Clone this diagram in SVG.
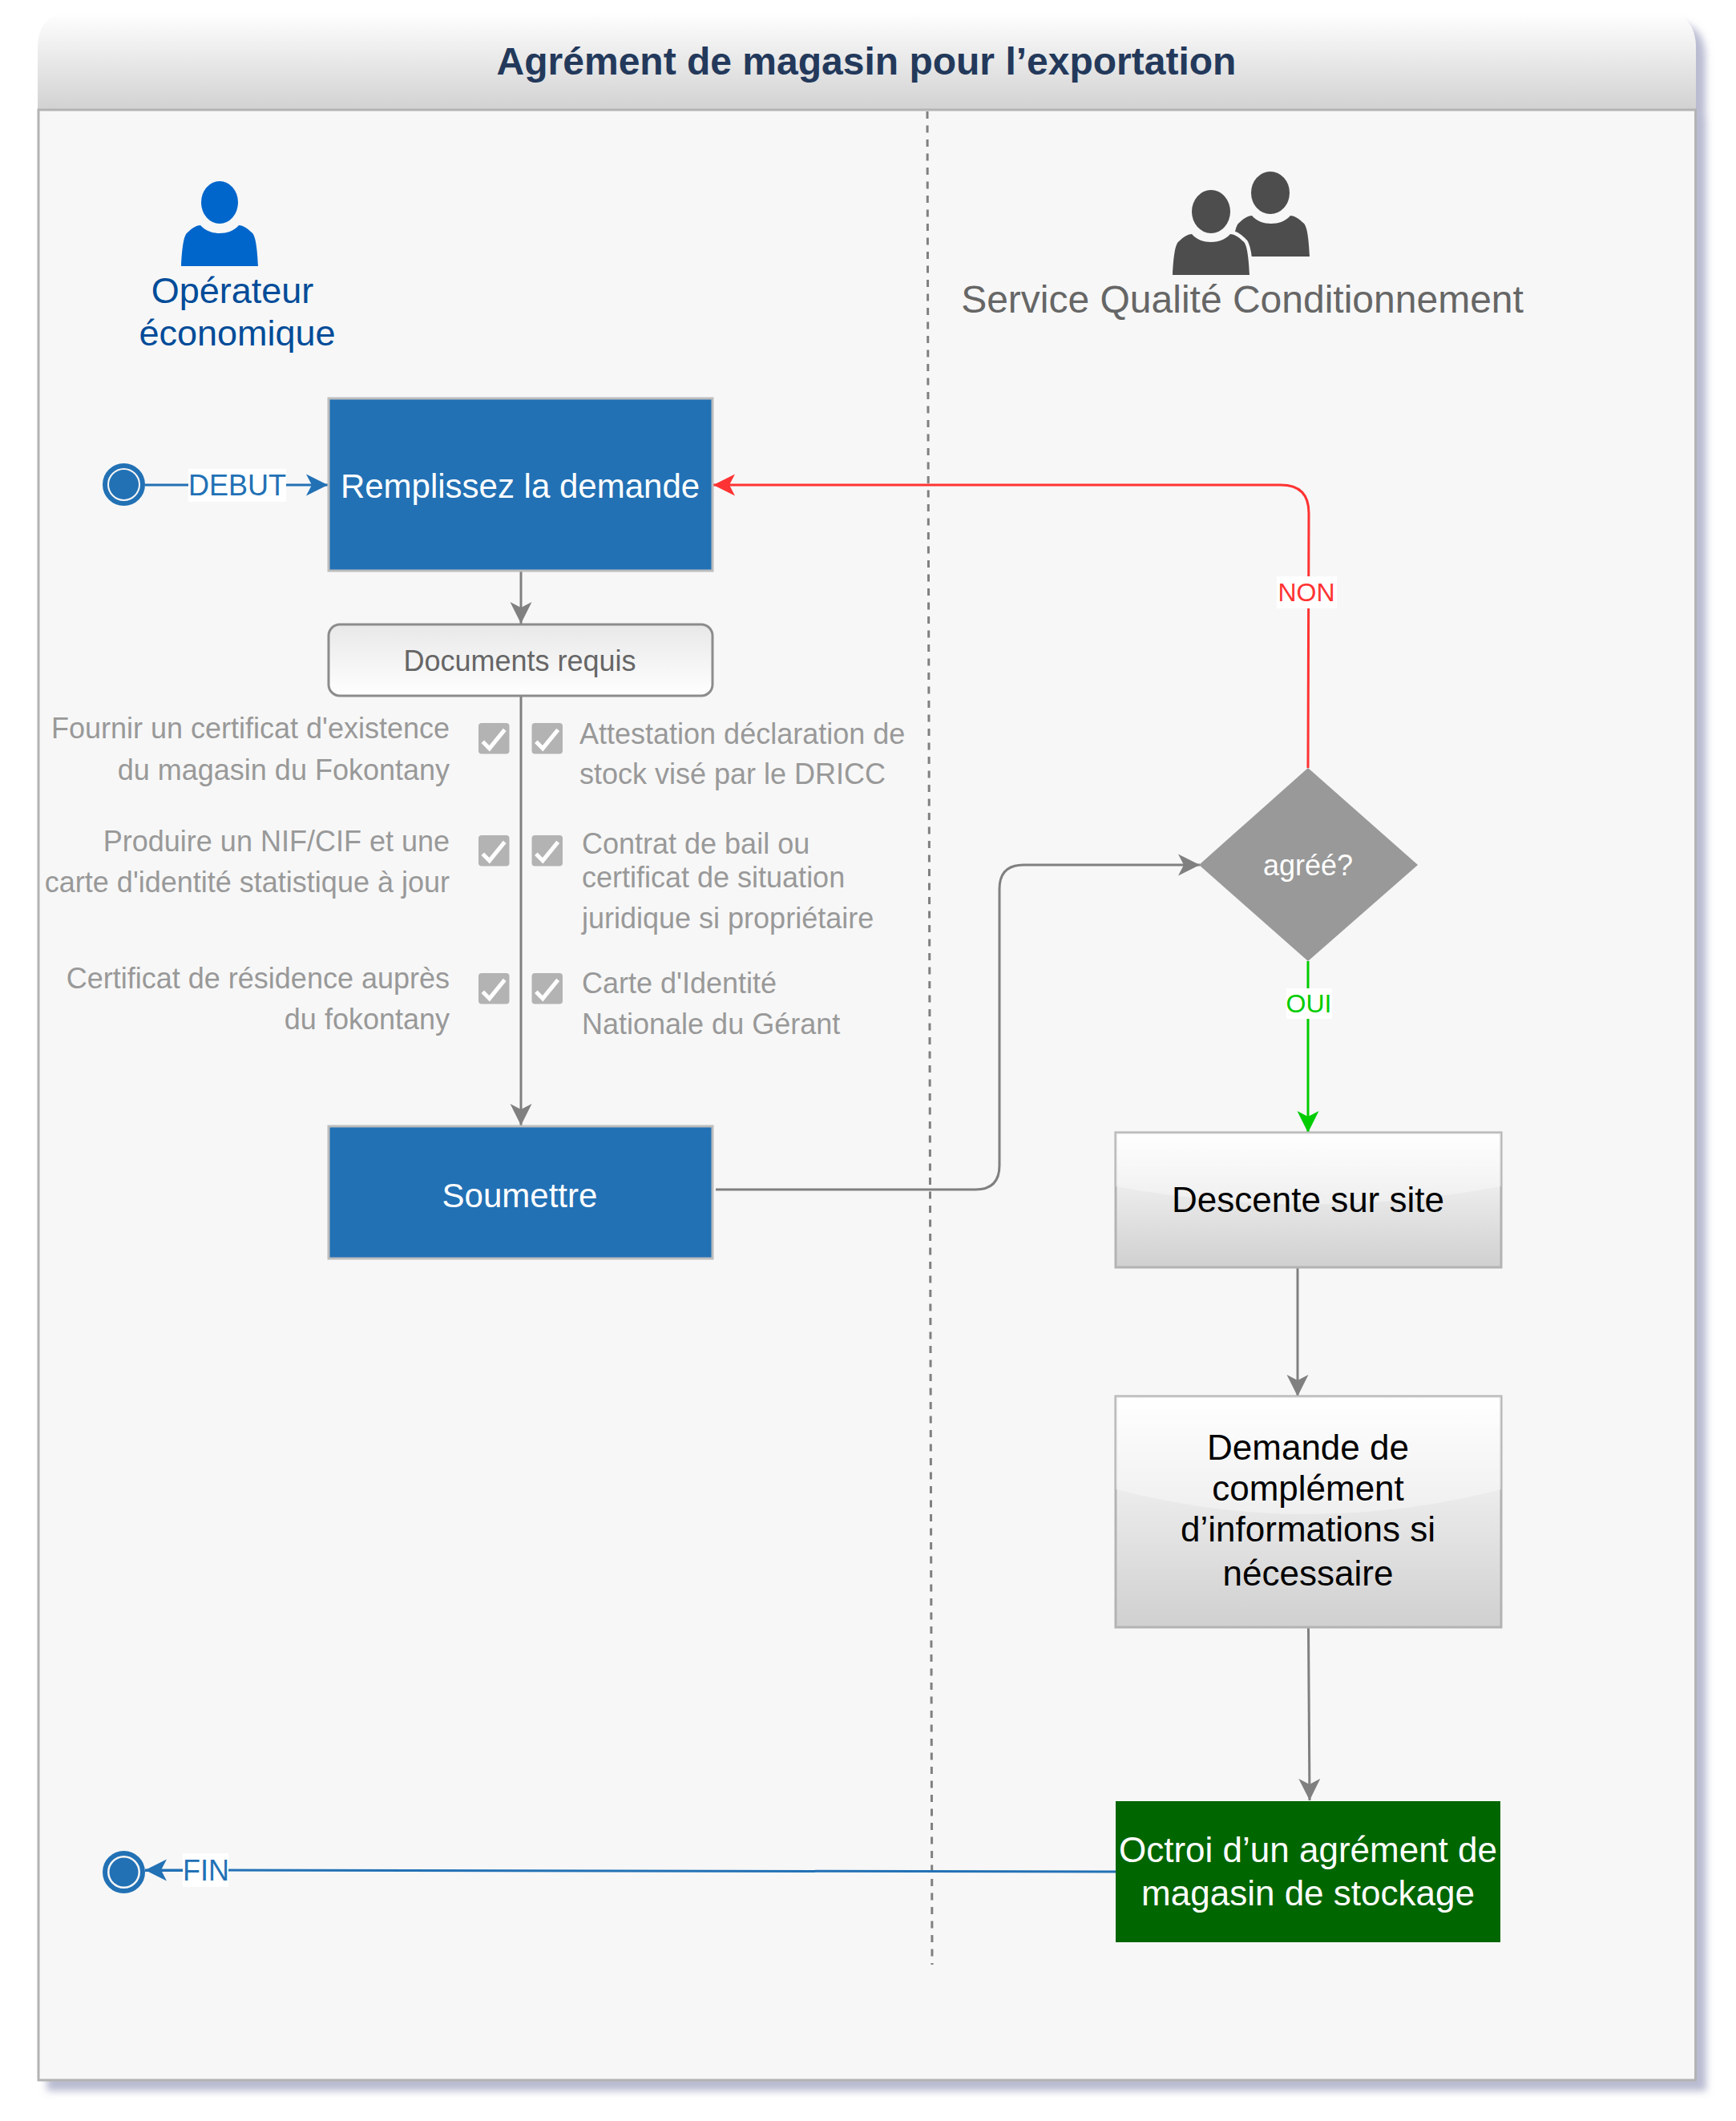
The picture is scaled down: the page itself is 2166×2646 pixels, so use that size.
<svg xmlns="http://www.w3.org/2000/svg" xmlns:xlink="http://www.w3.org/1999/xlink" width="2166" height="2646" viewBox="0 0 2166 2646">
<style>
text{font-family:"Liberation Sans",Arial,Helvetica,sans-serif}
.c{text-anchor:middle}
.r{text-anchor:end}
.req{font-size:36px;fill:#999999}
.w{fill:#ffffff}
.blue{fill:#2271B5;stroke:#BDBDBD;stroke-width:3}
.glass{fill:url(#gBox);stroke:#B3B3B3;stroke-width:3}
.sheen{fill:#ffffff;fill-opacity:.35}
.ln{fill:none;stroke-width:3}
.gray{stroke:#808080}
.lab{fill:#ffffff}
</style>
<defs>
<linearGradient id="gHead" x1="0" y1="0" x2="0" y2="1"><stop offset="0" stop-color="#ffffff"/><stop offset="1" stop-color="#D2D2D2"/></linearGradient>
<linearGradient id="gBox" x1="0" y1="0" x2="0" y2="1"><stop offset="0" stop-color="#ffffff"/><stop offset="1" stop-color="#D0D0D0"/></linearGradient>
<linearGradient id="gDoc" x1="0" y1="0" x2="0" y2="1"><stop offset="0" stop-color="#E8E8E8"/><stop offset="1" stop-color="#ffffff"/></linearGradient>
<filter id="shadow" x="-5%" y="-5%" width="110%" height="110%"><feDropShadow dx="12" dy="12" stdDeviation="5" flood-color="#8A8FB3" flood-opacity=".6"/></filter>
<marker id="aGray" markerUnits="userSpaceOnUse" markerWidth="28" markerHeight="28" viewBox="0 0 28 28" refX="27" refY="14" orient="auto"><path d="M0 .5L27 14L0 27.5L7 14Z" fill="#808080"/></marker>
<marker id="aBlue" markerUnits="userSpaceOnUse" markerWidth="28" markerHeight="28" viewBox="0 0 28 28" refX="27" refY="14" orient="auto"><path d="M0 .5L27 14L0 27.5L7 14Z" fill="#2271B5"/></marker>
<marker id="aRed" markerUnits="userSpaceOnUse" markerWidth="28" markerHeight="28" viewBox="0 0 28 28" refX="27" refY="14" orient="auto"><path d="M0 .5L27 14L0 27.5L7 14Z" fill="#FF3333"/></marker>
<marker id="aGreen" markerUnits="userSpaceOnUse" markerWidth="28" markerHeight="28" viewBox="0 0 28 28" refX="27" refY="14" orient="auto"><path d="M0 .5L27 14L0 27.5L7 14Z" fill="#00CC00"/></marker>
<path id="body" d="M-48 51C-47 30-45 12-40 9C-34 3-28 0-24 0C-18 7-9 10 0 10C9 10 18 7 24 0C28 0 34 3 40 9C45 12 47 30 48 51Z"/>
<g id="box"><rect width="38.500" height="38.500" rx="4" fill="#B3B3B3"/><polyline points="5.300,23.300 13.700,31.700 32.700,8.300" fill="none" stroke="#ffffff" stroke-width="5"/></g>
</defs>
<g id="pool">
<g filter="url(#shadow)">
<path d="M47 136V60Q47 15 92 15H2071Q2116 15 2116 60V136Z" fill="url(#gHead)"/>
<rect x="48" y="137" width="2067.500" height="2458" fill="#F7F7F7" stroke="#B3B3B3" stroke-width="3"/>
</g>
<text class="c" x="1081" y="93" font-size="48" font-weight="bold" fill="#23395B">Agrément de magasin pour l’exportation</text>
</g>
<line id="separator" x1="1157" y1="139" x2="1163" y2="2451" stroke="#808080" stroke-width="3" stroke-dasharray="9 8.500"/>
<g id="connectors">
<path class="ln" stroke="#2271B5" d="M181 605H409" marker-end="url(#aBlue)"/>
<rect class="lab" x="235" y="585" width="122" height="41"/>
<text class="c" x="296" y="618" font-size="36" fill="#2271B5">DEBUT</text>
<path class="ln gray" d="M650 712V778" marker-end="url(#aGray)"/>
<path class="ln gray" d="M650 868V1404" marker-end="url(#aGray)"/>
<path class="ln gray" d="M893 1484H1217Q1247 1484 1247 1454V1109Q1247 1079 1277 1079H1497" marker-end="url(#aGray)"/>
<path class="ln" stroke="#FF3333" d="M1632 958L1633 640Q1633 605 1598 605H890" marker-end="url(#aRed)"/>
<rect class="lab" x="1593" y="719" width="75" height="40"/>
<text class="c" x="1630" y="750" font-size="32" fill="#FF3333">NON</text>
<path class="ln" stroke="#00CC00" d="M1632 1199V1413" marker-end="url(#aGreen)"/>
<rect class="lab" x="1605" y="1233" width="57" height="38"/>
<text class="c" x="1633" y="1263" font-size="32" fill="#00CC00">OUI</text>
<path class="ln gray" d="M1619 1582V1742" marker-end="url(#aGray)"/>
<path class="ln gray" d="M1632.500 2031L1634 2246" marker-end="url(#aGray)"/>
<path class="ln" stroke="#2271B5" d="M1397 2335L181 2333" marker-end="url(#aBlue)"/>
<rect class="lab" x="228" y="2312" width="57" height="42"/>
<text class="c" x="257" y="2346" font-size="36" fill="#2271B5">FIN</text>
</g>
<g id="operateur">
<ellipse cx="274" cy="252.500" rx="23" ry="26.500" fill="#0066CC"/>
<use href="#body" x="274" y="281" fill="#0066CC"/>
<text class="c" x="290" y="378" font-size="45" fill="#004C99">Opérateur</text>
<text class="c" x="296" y="431" font-size="45" fill="#004C99">économique</text>
</g>
<g id="service">
<ellipse cx="1585" cy="240.500" rx="24" ry="26.500" fill="#4D4D4D"/>
<use href="#body" x="1586" y="269" fill="#4D4D4D"/>
<ellipse cx="1511" cy="264" rx="24" ry="27" fill="#4D4D4D"/>
<use href="#body" x="1511" y="292" fill="#4D4D4D" stroke="#F7F7F7" stroke-width="9" paint-order="stroke"/>
<text class="c" x="1550" y="390" font-size="48" fill="#666666">Service Qualité Conditionnement</text>
</g>
<g id="start"><circle cx="154.500" cy="604.500" r="23.500" fill="#F7F7F7" stroke="#2271B5" stroke-width="6"/><circle cx="154.500" cy="604.500" r="18.500" fill="#2271B5"/></g>
<g id="remplissez"><rect class="blue" x="410" y="497" width="479" height="215"/><text class="c w" x="649" y="621" font-size="42">Remplissez la demande</text></g>
<g id="documents"><rect x="410" y="779" width="479" height="89" rx="14" fill="url(#gDoc)" stroke="#8C8C8C" stroke-width="3"/><text class="c" x="648.500" y="837" font-size="36" fill="#666666">Documents requis</text></g>
<g id="req1"><text class="r req" x="561" y="921">Fournir un certificat d'existence</text><text class="r req" x="561" y="973">du magasin du Fokontany</text><use href="#box" x="597" y="902"/></g>
<g id="req2"><text class="r req" x="561" y="1062">Produire un NIF/CIF et une</text><text class="r req" x="561" y="1113">carte d'identité statistique à jour</text><use href="#box" x="597" y="1042"/></g>
<g id="req3"><text class="r req" x="561" y="1233">Certificat de résidence auprès</text><text class="r req" x="561" y="1284">du fokontany</text><use href="#box" x="597" y="1214"/></g>
<g id="req4"><use href="#box" x="663.500" y="902"/><text class="req" x="723" y="928">Attestation déclaration de</text><text class="req" x="723" y="978">stock visé par le DRICC</text></g>
<g id="req5"><use href="#box" x="663.500" y="1042"/><text class="req" x="726" y="1065">Contrat de bail ou</text><text class="req" x="726" y="1107">certificat de situation</text><text class="req" x="726" y="1158">juridique si propriétaire</text></g>
<g id="req6"><use href="#box" x="663.500" y="1214"/><text class="req" x="726" y="1239">Carte d'Identité</text><text class="req" x="726" y="1290">Nationale du Gérant</text></g>
<g id="soumettre"><rect class="blue" x="410" y="1405" width="479" height="165"/><text class="c w" x="648.500" y="1506" font-size="42">Soumettre</text></g>
<g id="agree"><polygon points="1632,958 1769,1079 1632,1199 1496,1079" fill="#999999"/><text class="c w" x="1632" y="1092" font-size="36">agréé?</text></g>
<g id="descente"><rect class="glass" x="1392" y="1413" width="481" height="168"/><path class="sheen" d="M1392 1413H1873V1480Q1632 1525 1392 1480Z"/><text class="c" x="1632" y="1512" font-size="44" fill="#000000">Descente sur site</text></g>
<g id="demande"><rect class="glass" x="1392" y="1742" width="481" height="288"/><path class="sheen" d="M1392 1742H1873V1858Q1632 1920 1392 1858Z"/><text class="c" font-size="44" fill="#000000"><tspan x="1632" y="1821">Demande de</tspan><tspan x="1632" y="1872">complément</tspan><tspan x="1632" y="1923">d’informations si</tspan><tspan x="1632" y="1978">nécessaire</tspan></text></g>
<g id="octroi"><rect x="1392" y="2247" width="480" height="176" fill="#006600"/><text class="c w" font-size="44"><tspan x="1632" y="2323">Octroi d’un agrément de</tspan><tspan x="1632" y="2377">magasin de stockage</tspan></text></g>
<g id="end"><circle cx="154.500" cy="2335.500" r="23.500" fill="#F7F7F7" stroke="#2271B5" stroke-width="6"/><circle cx="154.500" cy="2335.500" r="18" fill="#2271B5"/></g>
</svg>
